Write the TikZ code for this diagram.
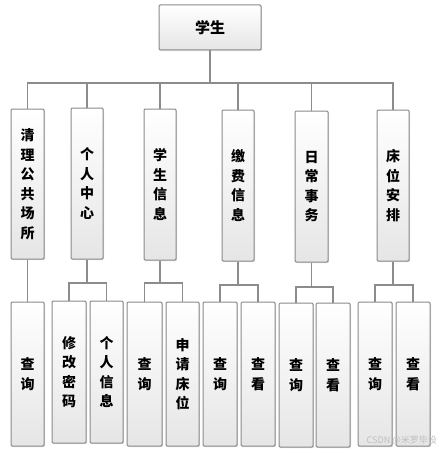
\documentclass[tikz,border=0pt]{standalone}
\usepackage{fontspec}
\setmainfont{Liberation Sans}
\newfontfamily\cjk{Noto Sans CJK SC}
\usetikzlibrary{shadows}
\definecolor{boxgray}{HTML}{8A8A8A}
\definecolor{linegray}{HTML}{8C8C8C}
\tikzset{
  box/.style={draw=boxgray, line width=1pt, rounded corners=1.2pt,
    top color=white, bottom color=black!10,
    drop shadow={shadow xshift=1.2pt, shadow yshift=-1.2pt, opacity=0.25},
    inner sep=0pt, align=center,
    font=\cjk\bfseries\fontsize{14}{19.5}\selectfont},
  conn/.style={draw=linegray, line width=1.4pt},
}
\newcommand\mybox[7][]{%
  \node[box,#1, minimum width={(#5-#3)*1pt}, minimum height={(#6-#4)*1pt}]
    (#2) at ({(#3+#5)/2},{(#4+#6)/2}) {#7};}
\begin{document}
\begin{tikzpicture}[x=1pt,y=-1pt]
\useasboundingbox (0,0) rectangle (439,452);
% top
\mybox[font=\cjk\bfseries\fontsize{15}{18}\selectfont]{xs}{159}{5}{261}{50}{学生}
% second level
\mybox{c1}{11}{109}{44}{259}{清\\理\\公\\共\\场\\所}
\mybox{c2}{71}{108}{103}{259}{个\\人\\中\\心}
\mybox{c3}{144}{109}{176}{260}{学\\生\\信\\息}
\mybox{c4}{222}{110}{254}{261}{缴\\费\\信\\息}
\mybox{c5}{295}{111}{328}{262}{日\\常\\事\\务}
\mybox{c6}{377}{110}{409}{261}{床\\位\\安\\排}
% third level
\mybox{l1}{11}{302}{44}{446}{查\\询}
\mybox{l2a}{52}{301}{86}{443}{修\\改\\密\\码}
\mybox{l2b}{90}{301}{123}{443}{个\\人\\信\\息}
\mybox{l3a}{127}{302}{162}{446}{查\\询}
\mybox{l3b}{166}{302}{199}{446}{申\\请\\床\\位}
\mybox{l4a}{203}{302}{237}{446}{查\\询}
\mybox{l4b}{241}{302}{275}{446}{查\\看}
\mybox{l5a}{279}{303}{313}{447}{查\\询}
\mybox{l5b}{316}{303}{350}{447}{查\\看}
\mybox{l6a}{358}{302}{392}{446}{查\\询}
\mybox{l6b}{396}{302}{430}{446}{查\\看}
% connectors level 1
\coordinate (bar) at (0,83);
\foreach \c in {c1,c2,c3,c4,c5,c6}
  \draw[conn] (xs.south) -- (xs.south |- bar) -| (\c.north);
% level 2
\draw[conn] (c1.south) -- (l1.north);
\coordinate (b2) at (0,283);
\coordinate (b3) at (0,283);
\coordinate (b4) at (0,285);
\coordinate (b5) at (0,287);
\coordinate (b6) at (0,285);
\foreach \p/\a/\b/\y in {c2/l2a/l2b/b2,c3/l3a/l3b/b3,c4/l4a/l4b/b4,c5/l5a/l5b/b5,c6/l6a/l6b/b6}{
  \draw[conn] (\p.south) -- (\p.south |- \y) -| (\a.north);
  \draw[conn] (\p.south |- \y) -| (\b.north);
}
% watermark
\node[text=black!25, font=\cjk\fontsize{9}{10}\selectfont, anchor=east, inner sep=0pt] (wm) at (437,440) {CSDN @米罗毕设};
\end{tikzpicture}
\end{document}
